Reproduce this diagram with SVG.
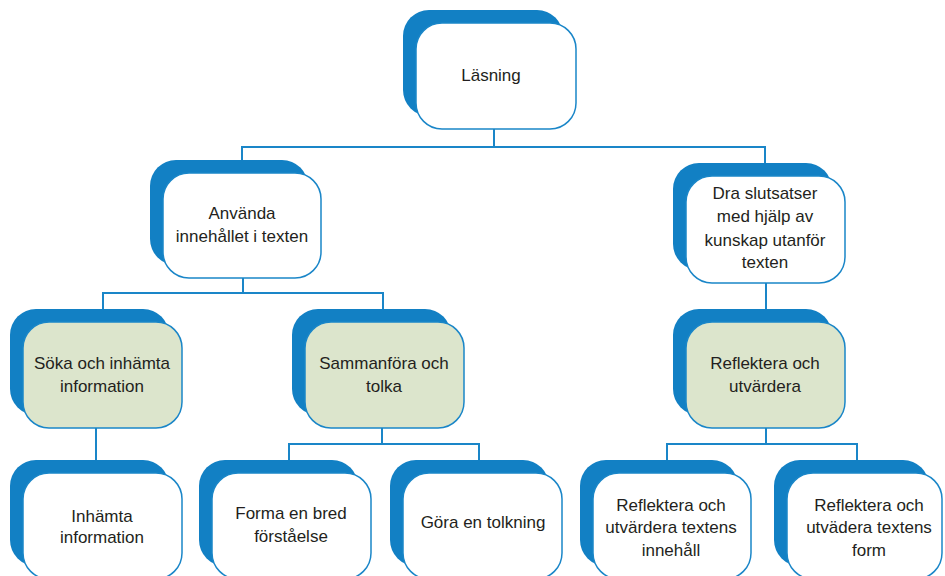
<svg xmlns="http://www.w3.org/2000/svg" width="945" height="576" viewBox="0 0 945 576">
<style>
.bk{fill:#1280c4}
.fr{fill:#ffffff;stroke:#1a86c8;stroke-width:1.5}
.gr{fill:#dce5cc}
.cn{fill:none;stroke:#1a86c8;stroke-width:2}
text{font-family:"Liberation Sans",Arial,sans-serif;font-size:17px;fill:#231f20;text-anchor:middle}
</style>
<rect width="945" height="576" fill="#ffffff"/>
<g id="connectors">
<path class="cn" d="M494 129V147M242 173V147H765V177"/>
<path class="cn" d="M243 278V293M103 310V293H383V310"/>
<path class="cn" d="M96 428V460"/>
<path class="cn" d="M382 428V444M289 460V444H479V460"/>
<path class="cn" d="M766 283V310"/>
<path class="cn" d="M766 428V444M667 460V444H857V460"/>
</g>
<g id="n-lasning">
<rect class="bk" x="403" y="10" width="160" height="106" rx="26"/>
<rect class="fr" x="416" y="23" width="160" height="106" rx="26"/>
<text x="491" y="81">Läsning</text>
</g>
<g id="n-anvanda">
<rect class="bk" x="150" y="160" width="158" height="105" rx="26"/>
<rect class="fr" x="163" y="173" width="158" height="105" rx="26"/>
<text x="242" y="219">Använda</text>
<text x="242" y="242">innehållet i texten</text>
</g>
<g id="n-dra">
<rect class="bk" x="673" y="163" width="159" height="107" rx="26"/>
<rect class="fr" x="686" y="176" width="159" height="107" rx="26"/>
<text x="765" y="199">Dra slutsatser</text>
<text x="765" y="222">med hjälp av</text>
<text x="765" y="246">kunskap utanför</text>
<text x="765" y="268">texten</text>
</g>
<g id="n-soka">
<rect class="bk" x="10" y="309" width="159" height="106" rx="26"/>
<rect class="fr gr" x="23" y="322" width="159" height="106" rx="26"/>
<text x="102" y="369">Söka och inhämta</text>
<text x="102" y="392">information</text>
</g>
<g id="n-sammanfora">
<rect class="bk" x="292" y="309" width="159" height="106" rx="26"/>
<rect class="fr gr" x="305" y="322" width="159" height="106" rx="26"/>
<text x="384" y="369">Sammanföra och</text>
<text x="384" y="392">tolka</text>
</g>
<g id="n-reflektera">
<rect class="bk" x="673" y="309" width="159" height="106" rx="26"/>
<rect class="fr gr" x="686" y="322" width="159" height="106" rx="26"/>
<text x="765" y="369">Reflektera och</text>
<text x="765" y="392">utvärdera</text>
</g>
<g id="n-inhamta">
<rect class="bk" x="10" y="460" width="159" height="106" rx="26"/>
<rect class="fr" x="23" y="473" width="159" height="106" rx="26"/>
<text x="102" y="522">Inhämta</text>
<text x="102" y="543">information</text>
</g>
<g id="n-forma">
<rect class="bk" x="199" y="460" width="159" height="106" rx="26"/>
<rect class="fr" x="212" y="473" width="159" height="106" rx="26"/>
<text x="291" y="519">Forma en bred</text>
<text x="291" y="542">förståelse</text>
</g>
<g id="n-gora">
<rect class="bk" x="390" y="460" width="159" height="106" rx="26"/>
<rect class="fr" x="403" y="473" width="159" height="106" rx="26"/>
<text x="483" y="528">Göra en tolkning</text>
</g>
<g id="n-refl-innehall">
<rect class="bk" x="580" y="460" width="158" height="106" rx="26"/>
<rect class="fr" x="593" y="473" width="158" height="106" rx="26"/>
<text x="671" y="511">Reflektera och</text>
<text x="671" y="533">utvärdera textens</text>
<text x="671" y="556">innehåll</text>
</g>
<g id="n-refl-form">
<rect class="bk" x="774" y="460" width="155" height="106" rx="26"/>
<rect class="fr" x="787" y="473" width="155" height="106" rx="26"/>
<text x="869" y="511">Reflektera och</text>
<text x="869" y="533">utvädera textens</text>
<text x="869" y="556">form</text>
</g>
</svg>
